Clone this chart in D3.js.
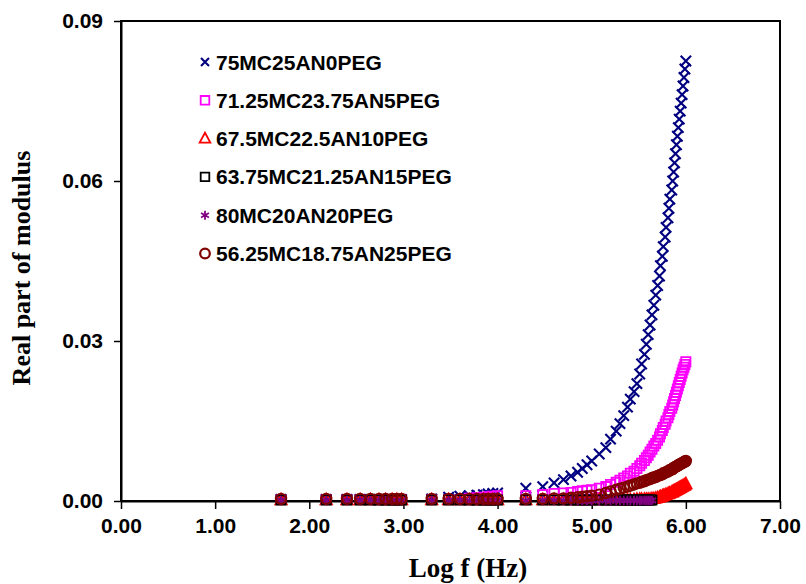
<!DOCTYPE html>
<html>
<head>
<meta charset="utf-8">
<script src="https://cdn.jsdelivr.net/npm/d3@7"></script>
<style>
  body { margin: 0; background: #fff; }
  svg { display: block; }
</style>
</head>
<body>
<svg id="chart" width="806" height="584"></svg>
<script>
// log f values shared by every series
const logF = [1.70, 2.18, 2.40, 2.54, 2.65, 2.74, 2.81, 2.88, 2.93, 2.98,
  3.30, 3.48, 3.60, 3.70, 3.78, 3.85, 3.90, 3.95, 4.00,
  4.30, 4.48, 4.60, 4.70, 4.78, 4.85, 4.90, 4.95, 5.00,
  5.08, 5.15, 5.20, 5.26, 5.30, 5.34, 5.38, 5.41, 5.45, 5.48,
  5.51, 5.53, 5.56, 5.58, 5.60, 5.62, 5.64, 5.66, 5.68, 5.70,
  5.72, 5.73, 5.75, 5.76, 5.78, 5.79, 5.81, 5.82, 5.83, 5.85,
  5.86, 5.87, 5.88, 5.89, 5.90, 5.91, 5.92, 5.93, 5.94, 5.95,
  5.96, 5.97, 5.98, 5.99, 6.00];

const pegNames = ["75MC25AN0PEG", "71.25MC23.75AN5PEG", "67.5MC22.5AN10PEG",
  "63.75MC21.25AN15PEG", "80MC20AN20PEG", "56.25MC18.75AN25PEG"];
const pegColors = ["#000080", "#ff00ff", "#ff0000", "#000000", "#800080", "#800000"];
const pegMarkers = ["x", "square", "triangle", "square", "asterisk", "circle"];

const peg0 = [0.0003, 0.0003, 0.0003, 0.0003, 0.0003, 0.0003, 0.0003, 0.0003, 0.0003, 0.0003,
  0.0004, 0.0007, 0.0009, 0.0010, 0.0011, 0.0012, 0.0013, 0.0014, 0.0015,
  0.0024, 0.0027, 0.0034, 0.0040, 0.0047, 0.0054, 0.0061, 0.0068, 0.0075,
  0.0088, 0.0100, 0.0116, 0.0131, 0.0145, 0.0160, 0.0176, 0.0191, 0.0205, 0.0220,
  0.0238, 0.0257, 0.0275, 0.0294, 0.0312, 0.0330, 0.0349, 0.0367, 0.0386, 0.0404,
  0.0422, 0.0441, 0.0459, 0.0477, 0.0495, 0.0513, 0.0531, 0.0549, 0.0566, 0.0583,
  0.0600, 0.0617, 0.0634, 0.0651, 0.0668, 0.0684, 0.0700, 0.0716, 0.0731, 0.0746,
  0.0762, 0.0778, 0.0794, 0.0810, 0.0825];

const peg5 = [0.0003, 0.0003, 0.0003, 0.0003, 0.0003, 0.0003, 0.0003, 0.0003, 0.0003, 0.0003,
  0.0003, 0.0003, 0.0003, 0.0005, 0.0006, 0.0007, 0.0008, 0.0009, 0.0010,
  0.0010, 0.0012, 0.0014, 0.0015, 0.0016, 0.0018, 0.0019, 0.0020, 0.0021,
  0.0024, 0.0027, 0.0031, 0.0035, 0.0039, 0.0043, 0.0047, 0.0052, 0.0056, 0.0061,
  0.0066, 0.0071, 0.0076, 0.0081, 0.0086, 0.0092, 0.0097, 0.0103, 0.0108, 0.0114,
  0.0120, 0.0126, 0.0132, 0.0138, 0.0144, 0.0150, 0.0156, 0.0162, 0.0168, 0.0174,
  0.0180, 0.0186, 0.0192, 0.0198, 0.0204, 0.0210, 0.0216, 0.0222, 0.0228, 0.0234,
  0.0240, 0.0246, 0.0251, 0.0256, 0.0261];

const peg10 = [0.0002, 0.0002, 0.0002, 0.0002, 0.0002, 0.0002, 0.0002, 0.0002, 0.0002, 0.0002,
  0.0002, 0.0002, 0.0002, 0.0002, 0.0002, 0.0002, 0.0002, 0.0002, 0.0002,
  0.0002, 0.0002, 0.0002, 0.0002, 0.0002, 0.0002, 0.0002, 0.0002, 0.0002,
  0.0002, 0.0002, 0.0002, 0.0002, 0.0002, 0.0002, 0.0002, 0.0002, 0.0002, 0.0003,
  0.0003, 0.0003, 0.0003, 0.0003, 0.0003, 0.0003, 0.0004, 0.0004, 0.0005, 0.0006,
  0.0007, 0.0008, 0.0009, 0.0010, 0.0011, 0.0012, 0.0013, 0.0014, 0.0015, 0.0016,
  0.0017, 0.0018, 0.0019, 0.0020, 0.0021, 0.0022, 0.0023, 0.0024, 0.0025, 0.0026,
  0.0027, 0.0028, 0.0029, 0.0030, 0.0032];

// these two stop at log f = 5.64
const peg15 = [0.0002, 0.0002, 0.0002, 0.0002, 0.0002, 0.0002, 0.0002, 0.0002, 0.0002, 0.0002,
  0.0002, 0.0002, 0.0002, 0.0002, 0.0002, 0.0002, 0.0002, 0.0002, 0.0002,
  0.0002, 0.0002, 0.0002, 0.0002, 0.0002, 0.0002, 0.0002, 0.0002, 0.0002,
  0.0002, 0.0002, 0.0002, 0.0002, 0.0002, 0.0002, 0.0002, 0.0002, 0.0002, 0.0002,
  0.0002, 0.0002, 0.0002, 0.0002, 0.0002, 0.0002, 0.0002];

const peg20 = [0.0001, 0.0001, 0.0001, 0.0001, 0.0001, 0.0001, 0.0001, 0.0001, 0.0001, 0.0001,
  0.0001, 0.0001, 0.0001, 0.0001, 0.0001, 0.0001, 0.0001, 0.0001, 0.0001,
  0.0001, 0.0001, 0.0001, 0.0001, 0.0001, 0.0001, 0.0001, 0.0001, 0.0001,
  0.0001, 0.0001, 0.0001, 0.0001, 0.0001, 0.0001, 0.0001, 0.0001, 0.0001, 0.0001,
  0.0001, 0.0001, 0.0001, 0.0001, 0.0001, 0.0001, 0.0001];

const peg25 = [0.0004, 0.0004, 0.0004, 0.0004, 0.0004, 0.0004, 0.0004, 0.0004, 0.0004, 0.0004,
  0.0004, 0.0004, 0.0004, 0.0004, 0.0004, 0.0004, 0.0004, 0.0004, 0.0004,
  0.0004, 0.0004, 0.0005, 0.0005, 0.0006, 0.0007, 0.0008, 0.0009, 0.0010,
  0.0012, 0.0015, 0.0018, 0.0021, 0.0023, 0.0025, 0.0027, 0.0029, 0.0031, 0.0033,
  0.0034, 0.0036, 0.0037, 0.0039, 0.0040, 0.0041, 0.0043, 0.0044, 0.0045, 0.0047,
  0.0048, 0.0049, 0.0050, 0.0052, 0.0053, 0.0054, 0.0055, 0.0057, 0.0058, 0.0059,
  0.0060, 0.0062, 0.0063, 0.0064, 0.0065, 0.0066, 0.0067, 0.0068, 0.0069, 0.0070,
  0.0071, 0.0072, 0.0073, 0.0074, 0.0075];

const pegValues = [peg0, peg5, peg10, peg15, peg20, peg25];

const xTicks = [0, 1, 2, 3, 4, 5, 6, 7];
const yTicks = [0, 0.03, 0.06, 0.09];

const svg = d3.select("#chart");
const x = d3.scaleLinear().domain([0, 7]).range([121, 780]);
const y = d3.scaleLinear().domain([0, 0.09]).range([501, 21]);

// marker shapes, drawn around 0,0
function markerPath(type, r) {
  if (type == "x") return `M${-r},${-r}L${r},${r}M${-r},${r}L${r},${-r}`;
  if (type == "square") return `M${-r},${-r}H${r}V${r}H${-r}Z`;
  if (type == "triangle") return `M0,${-r * 1.15}L${r * 1.05},${r * 0.8}L${-r * 1.05},${r * 0.8}Z`;
  if (type == "asterisk") {
    let a = r * 0.87, b = r * 0.5;
    return `M0,${-r}V${r}M${-a},${-b}L${a},${b}M${-a},${b}L${a},${-b}`;
  }
  let p = d3.path();
  p.arc(0, 0, r, 0, 2 * Math.PI);
  p.closePath();
  return p.toString();
}
const markerSize = {x: 5.2, square: 4.6, triangle: 5.4, asterisk: 4.8, circle: 5.1};
const markerWidth = {x: 2.1, square: 1.8, triangle: 1.8, asterisk: 1.8, circle: 2.2};

// frame
svg.append("rect")
  .attr("x", x(0)).attr("y", y(0.09))
  .attr("width", x(7) - x(0)).attr("height", y(0) - y(0.09))
  .attr("fill", "none").attr("stroke", "#000").attr("stroke-width", 2);

// axes
let xAxis = svg.append("g")
  .attr("transform", `translate(0,${y(0)})`)
  .call(d3.axisBottom(x).tickValues(xTicks).tickFormat(d3.format(".2f"))
    .tickSize(8).tickSizeOuter(0).tickPadding(9));
let yAxis = svg.append("g")
  .attr("transform", `translate(${x(0)},0)`)
  .call(d3.axisLeft(y).tickValues(yTicks).tickFormat(d3.format(".2f"))
    .tickSize(7).tickSizeOuter(0).tickPadding(11));
[xAxis, yAxis].forEach(function(ax) {
  ax.select(".domain").attr("stroke-width", 2);
  ax.selectAll(".tick line").attr("stroke-width", 1.5);
  ax.selectAll(".tick text")
    .attr("fill", "#000")
    .style("font-family", "Arial, 'Liberation Sans', sans-serif")
    .style("font-weight", "bold")
    .style("font-size", "21px");
});

// data markers, series drawn in order so the last ones sit on top
pegValues.forEach(function(vals, i) {
  let type = pegMarkers[i];
  svg.append("g").selectAll("path")
    .data(d3.zip(logF.slice(0, vals.length), vals))
    .join("path")
    .attr("transform", d => `translate(${x(d[0])},${y(d[1])})`)
    .attr("d", markerPath(type, markerSize[type]))
    .attr("fill", "none")
    .attr("stroke", pegColors[i])
    .attr("stroke-width", markerWidth[type]);
});

// legend
let legend = svg.append("g");
pegNames.forEach(function(name, i) {
  let cy = 62 + i * 38.3;
  let type = pegMarkers[i];
  legend.append("path")
    .attr("transform", `translate(205,${cy})`)
    .attr("d", markerPath(type, type == "x" ? 4 : markerSize[type] - 0.3))
    .attr("fill", "none")
    .attr("stroke", pegColors[i])
    .attr("stroke-width", markerWidth[type]);
  legend.append("text")
    .attr("x", 216).attr("y", cy + 7.5)
    .text(name)
    .style("font-family", "Arial, 'Liberation Sans', sans-serif")
    .style("font-weight", "bold")
    .style("font-size", "21px");
});

// axis titles
svg.append("text")
  .attr("x", 468).attr("y", 577)
  .attr("text-anchor", "middle")
  .text("Log f (Hz)")
  .style("font-family", "'Times New Roman', 'Liberation Serif', serif")
  .style("font-weight", "bold")
  .style("font-size", "27px");
svg.append("text")
  .attr("transform", "translate(30,268) rotate(-90)")
  .attr("text-anchor", "middle")
  .text("Real part of modulus")
  .style("font-family", "'Times New Roman', 'Liberation Serif', serif")
  .style("font-weight", "bold")
  .style("font-size", "26px");
</script>
</body>
</html>
